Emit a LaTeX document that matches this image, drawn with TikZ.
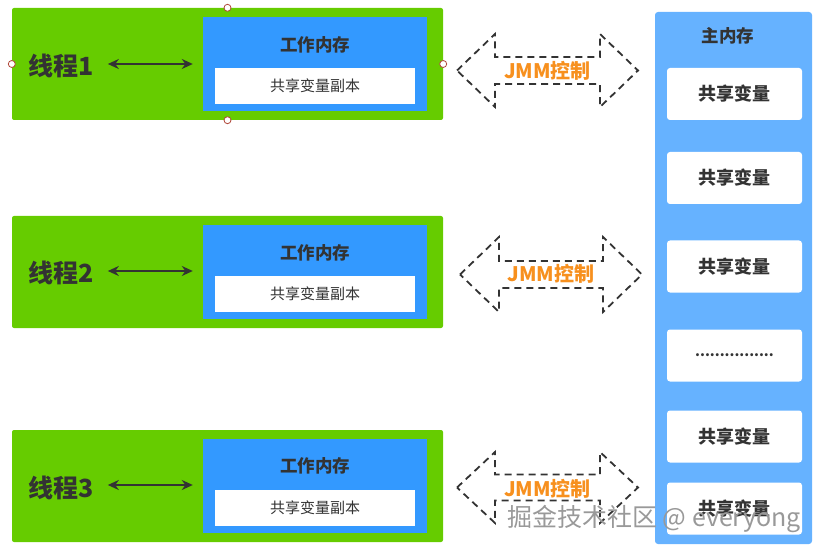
\documentclass[tikz,border=0pt]{standalone}
\usepackage{fontspec}
\setmainfont{Noto Sans CJK SC}
\usetikzlibrary{arrows.meta}

\definecolor{threadgreen}{HTML}{66CC00}
\definecolor{workblue}{HTML}{3399FF}
\definecolor{mainblue}{HTML}{66B2FF}
\definecolor{txtgray}{HTML}{333333}
\definecolor{jmmorange}{HTML}{F7901E}
\definecolor{handlered}{HTML}{B0483A}

\begin{document}
\begin{tikzpicture}[
    x=1pt, y=-1pt,
    threadbox/.style={rectangle, fill=threadgreen, rounded corners=2pt, minimum width=431pt, minimum height=112pt, inner sep=0pt},
    workbox/.style={rectangle, fill=workblue, minimum width=224pt, minimum height=94pt, inner sep=0pt},
    copybox/.style={rectangle, fill=white, minimum width=200pt, minimum height=36pt, inner sep=0pt, text=txtgray, font=\fontsize{15}{17}\selectfont},
    worktitle/.style={text=txtgray, font=\fontsize{17.5}{20}\selectfont\bfseries},
    threadlabel/.style={text=txtgray, font=\fontsize{25}{28}\selectfont\bfseries, inner sep=1pt},
    mainbox/.style={rectangle, fill=mainblue, rounded corners=3pt, minimum width=157pt, minimum height=532pt, inner sep=0pt},
    varbox/.style={rectangle, fill=white, rounded corners=3pt, minimum width=135pt, minimum height=52pt, inner sep=0pt, text=txtgray, font=\fontsize{18}{20}\selectfont\bfseries},
    jmmtext/.style={text=jmmorange, font=\fontsize{20}{22}\selectfont\bfseries, inner sep=0pt},
    jmmarrow/.style={draw=txtgray, line width=1.8pt, dash pattern=on 7pt off 5pt, line join=miter},
    link/.style={{Stealth[length=11pt,width=10pt]}-{Stealth[length=11pt,width=10pt]}, draw=txtgray, line width=2pt},
    handle/.style={circle, draw=handlered, fill=white, line width=0.8pt, minimum size=7pt, inner sep=0pt},
    watermark/.style={text=gray!80, font=\fontsize{25}{28}\selectfont}
]
\useasboundingbox (0,0) rectangle (821,553);

% Threads (green), working memory (blue), copies (white)
\node[threadbox] (g1) at (227.5, 64) {};
\node[threadbox] (g2) at (227.5, 272) {};
\node[threadbox] (g3) at (227.5, 486) {};

\node[workbox] (w1) at (315, 64) {};
\node[workbox] (w2) at (315, 272) {};
\node[workbox] (w3) at (315, 486) {};

\node[worktitle] (wt1) at (315, 45) {工作内存};
\node[worktitle] (wt2) at (315, 253) {工作内存};
\node[worktitle] (wt3) at (315, 466) {工作内存};

\node[copybox] (c1) at (315, 86) {共享变量副本};
\node[copybox] (c2) at (315, 294) {共享变量副本};
\node[copybox] (c3) at (315, 508) {共享变量副本};

\node[threadlabel] (t1) at (61, 66) {线程1};
\node[threadlabel] (t2) at (61, 273) {线程2};
\node[threadlabel] (t3) at (61, 488) {线程3};

\draw[link, shorten <=13pt, shorten >=10pt] (t1.east |- w1.west) -- (w1.west);
\draw[link, shorten <=13pt, shorten >=10pt] (t2.east |- 0,271) -- (w2.west |- 0,271);
\draw[link, shorten <=13pt, shorten >=10pt] (t3.east |- 0,485) -- (w3.west |- 0,485);

% Selection handles round the first thread box
\node[handle] (h1) at (g1.north) {};
\node[handle] (h2) at (g1.south) {};
\node[handle] (h3) at (g1.west) {};
\node[handle] (h4) at (g1.east) {};

% JMM arrows
\node[jmmtext] (j1) at (547.5, 71) {JMM控制};
\node[jmmtext] (j2) at (551, 274) {JMM控制};
\node[jmmtext] (j3) at (547.5, 489) {JMM控制};

\draw[jmmarrow, shift={(547.5,70.5)}] (-90.5,0) -- (-52.5,-36.5) -- (-52.5,-13.5) -- (52.5,-13.5) -- (52.5,-36.5) -- (90.5,0) -- (52.5,36.5) -- (52.5,13.5) -- (-52.5,13.5) -- (-52.5,36.5) -- cycle;
\draw[jmmarrow, shift={(551,274.5)}] (-91,0) -- (-52,-37.5) -- (-52,-13.5) -- (52,-13.5) -- (52,-37.5) -- (91,0) -- (52,37.5) -- (52,13.5) -- (-52,13.5) -- (-52,37.5) -- cycle;
\draw[jmmarrow, shift={(547.5,487.5)}] (-90.5,0) -- (-52.5,-35.5) -- (-52.5,-13) -- (52.5,-13) -- (52.5,-35.5) -- (90.5,0) -- (52.5,35.5) -- (52.5,13) -- (-52.5,13) -- (-52.5,35.5) -- cycle;

% Main memory
\node[mainbox] (m) at (733.5, 278) {};
\node[worktitle] (mt) at (728, 36) {主内存};
\node[varbox] (v1) at (734.5, 94) {共享变量};
\node[varbox] (v2) at (734.5, 178) {共享变量};
\node[varbox] (v3) at (734.5, 266.5) {共享变量};
\node[varbox, font=\fontsize{14}{16}\selectfont\bfseries] (v4) at (734.5, 355.5) {................};
\node[varbox] (v5) at (734.5, 436.5) {共享变量};
\node[varbox] (v6) at (734.5, 508.5) {共享变量};

% Watermark
\node[watermark] (wm) at (654, 519) {掘金技术社区 @ everyong};

\end{tikzpicture}
\end{document}
